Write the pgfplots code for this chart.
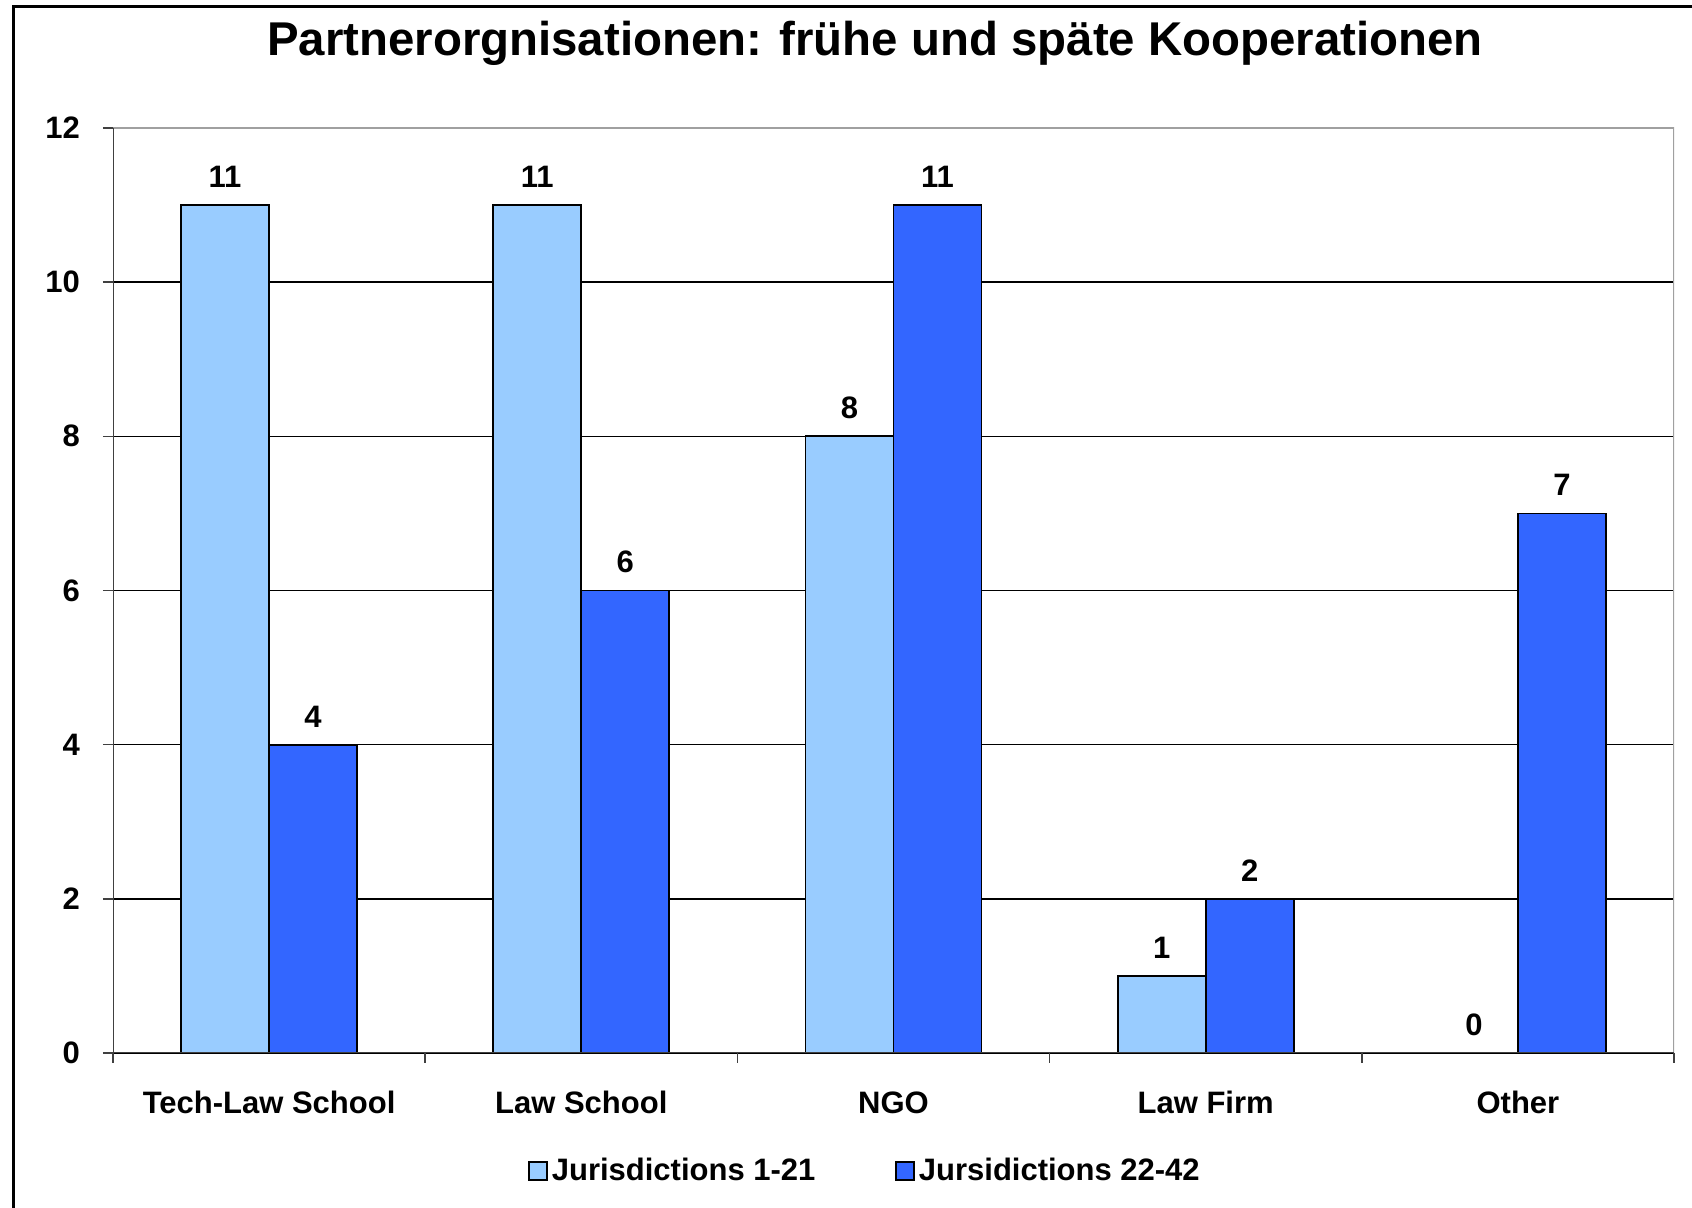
\documentclass[border=0pt]{standalone}
\usepackage{fontspec}
\setmainfont{Liberation Sans}
\usepackage{pgfplots}
\pgfplotsset{compat=1.18}
\definecolor{early}{HTML}{99CCFF}
\definecolor{late}{HTML}{3366FF}
\definecolor{axisdark}{HTML}{404040}
\definecolor{axislight}{HTML}{A0A0A0}
\newcommand{\lbl}{\fontsize{15.5}{18}\selectfont\bfseries}

\begin{document}
\begin{tikzpicture}[x=1pt,y=1pt]
  \begin{axis}[
      at={(56.5pt,77.5pt)}, anchor=south west,
      scale only axis, width=780.5pt, height=462.5pt,
      ybar=0pt, bar width=44pt,
      xmin=-0.5, xmax=4.5, ymin=0, ymax=12,
      xtick={0,...,4},
      xticklabels={Tech-Law School,Law School,NGO,Law Firm,Other},
      minor xtick={-0.5,0.5,...,4.5},
      ytick={0,2,...,12},
      tick pos=left, tick align=outside,
      major tick length=5pt, minor tick length=5pt,
      major x tick style={draw=none},
      tick style={draw=axisdark, line width=0.75pt},
      ymajorgrids,
      major grid style={draw=black, line width=0.75pt},
      axis line style={draw=none},
      /pgf/number format/assume math mode=true,
      tick label style={font=\lbl},
      yticklabel style={xshift=-8pt},
      xticklabel style={anchor=base, yshift=-25.5pt},
      nodes near coords,
      nodes near coords style={font=\lbl, text=black, yshift=5pt},
      legend style={at={(0.4824,-0.1276)}, anchor=center, draw=none,
        legend columns=2, font=\lbl,
        /tikz/every even column/.append style={column sep=38pt}},
    ]
    \addplot[fill=early, draw=black, line width=0.9pt,
      legend image code/.code={\draw[fill=early,draw=black,line width=0.75pt] (0pt,-4.5pt) rectangle (9pt,4.5pt);}]
      coordinates {(0,11) (1,11) (2,8) (3,1) (4,0)};
    \addplot[fill=late, draw=black, line width=0.9pt,
      legend image code/.code={\draw[fill=late,draw=black,line width=0.75pt] (0pt,-4.5pt) rectangle (9pt,4.5pt);}]
      coordinates {(0,4) (1,6) (2,11) (3,2) (4,7)};
    \legend{Jurisdictions 1-21, Jursidictions 22-42}
    \draw[axislight, line width=0.75pt] (rel axis cs:0,1) -- (rel axis cs:1,1) -- (rel axis cs:1,0);
    \draw[axisdark, line width=0.75pt] (rel axis cs:0,1) -- (rel axis cs:0,0) -- (rel axis cs:1,0);
  \end{axis}
  \node[font=\fontsize{23.7}{28}\selectfont\bfseries] at (437.5,582.5)
    {Partnerorgnisationen: frühe und späte Kooperationen};
  \draw[line width=1.5pt] (6.5,-20) rectangle (900,600.5);
  \pgfresetboundingbox
  \useasboundingbox (0,0) rectangle (846,604);
\end{tikzpicture}
\end{document}
